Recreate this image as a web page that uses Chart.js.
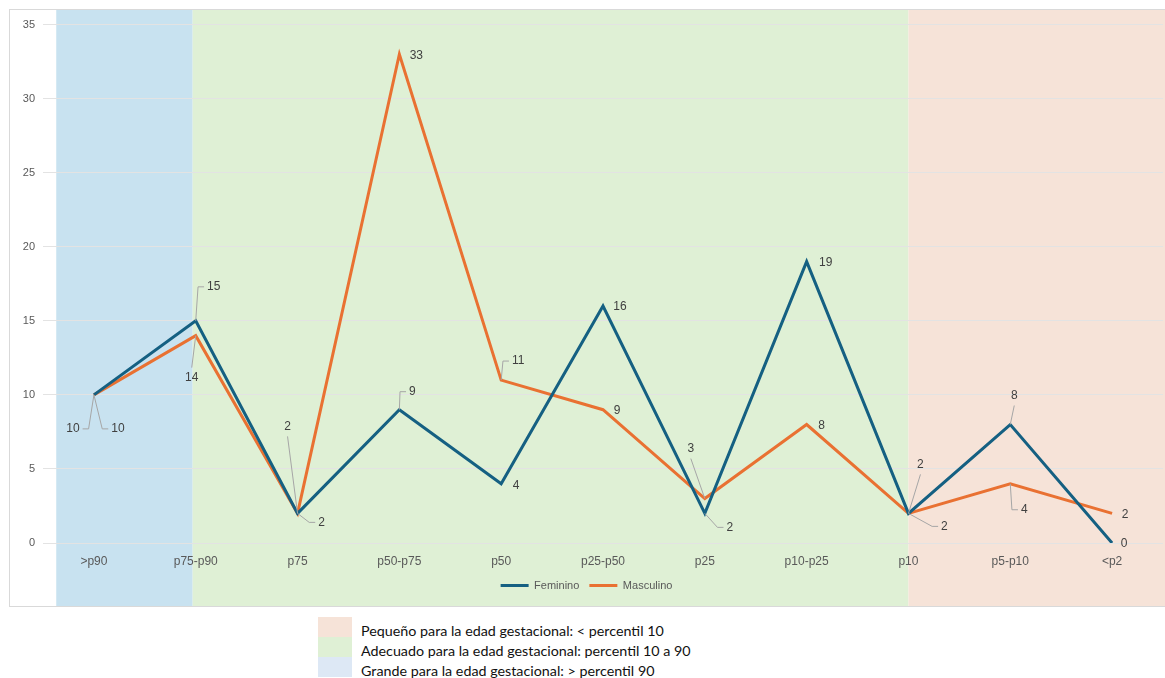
<!DOCTYPE html>
<html>
<head>
<meta charset="utf-8">
<script src="https://cdn.jsdelivr.net/npm/chart.js@4"></script>
<style>
    body { margin: 0; background: #fff; width: 1165px; height: 678px; overflow: hidden; position: relative; font-family: "Liberation Sans", Arial, sans-serif; }
    #frame { position: absolute; left: 9px; top: 9px; width: 1160px; height: 598px; border: 1px solid #d9d9d9; box-sizing: border-box; }
    #frame canvas { display: block; }
    #key { position: absolute; left: 318px; top: 617px; }
    .row { display: flex; align-items: center; height: 20px; }
    .box { width: 34px; height: 20px; margin-right: 9px; }
    .row span { font-size: 14.3px; color: #111; font-family: "Lato", sans-serif; position: relative; top: 3px; }
</style>
</head>
<body>
<div id="frame"><canvas id="chart" width="1158" height="596"></canvas></div>
<div id="key">
    <div class="row"><div class="box" style="background:#f6e3d8"></div><span>Pequeño para la edad gestacional: &lt; percentil 10</span></div>
    <div class="row"><div class="box" style="background:#dff0d5"></div><span>Adecuado para la edad gestacional: percentil 10 a 90</span></div>
    <div class="row"><div class="box" style="background:#dde8f5"></div><span>Grande para la edad gestacional: &gt; percentil 90</span></div>
</div>
<script>
// DATA
let labels = [">p90", "p75-p90", "p75", "p50-p75", "p50", "p25-p50", "p25", "p10-p25", "p10", "p5-p10", "<p2"];
let feminino = [10, 15, 2, 9, 4, 16, 2, 19, 2, 8, 0];
let masculino = [10, 14, 2, 33, 11, 9, 3, 8, 2, 4, 2];

// BACKGROUND BANDS (in category units)
let bandFrom = [-0.37, 0.97, 8];
let bandTo = [0.97, 8, 12];
let bandColors = ["#c8e2f0", "#dff0d5", "#f6e3d8"];

// LABEL PLACEMENT [dx, dy, leader]
let femLabelPos = [[-21, 34, "h"], [18, -34, "h"], [24, 9, "h"], [13, -18, "h"], [15, 2, ""], [17, 1, ""],
    [25, 14, "h"], [19, 1, ""], [12, -49, "v"], [4, -29, "v"], [12, 1, ""]];
let mascLabelPos = [[24, 34, "h"], [-4, 42, "v"], [-10, -87, "v"], [17, 1, ""], [17, -19, "h"], [14, 1, ""],
    [-14, -50, "v"], [15, 1, ""], [36, 13, "h"], [14, 26, "h"], [13, 1, ""]];

let bandPlugin = {
    id: "bands",
    beforeDraw(chart) {
        let ctx = chart.ctx;
        let x = chart.scales.x;
        ctx.save();
        for (let i = 0; i < bandFrom.length; i++) {
            let x1 = x.getPixelForValue(bandFrom[i]);
            let x2 = Math.min(x.getPixelForValue(bandTo[i]), chart.width);
            ctx.fillStyle = bandColors[i];
            ctx.fillRect(x1, 0, x2 - x1, chart.height);
        }
        ctx.restore();
    }
};

let labelPlugin = {
    id: "valueLabels",
    afterDatasetsDraw(chart) {
        let ctx = chart.ctx;
        let all = [femLabelPos, mascLabelPos];
        ctx.save();
        ctx.font = "12px 'Liberation Sans', Arial, sans-serif";
        ctx.textAlign = "center";
        ctx.textBaseline = "middle";
        chart.data.datasets.forEach((ds, d) => {
            let meta = chart.getDatasetMeta(d);
            meta.data.forEach((pt, i) => {
                let pos = all[d][i];
                let lx = pt.x + pos[0];
                let ly = pt.y + pos[1];
                let text = String(ds.data[i]);
                let w = ctx.measureText(text).width;
                if (pos[2]) {
                    ctx.strokeStyle = "#a6a6a6";
                    ctx.lineWidth = 1;
                    ctx.beginPath();
                    ctx.moveTo(pt.x, pt.y);
                    if (pos[2] == "h") {
                        let side = pos[0] < 0 ? -1 : 1;
                        ctx.lineTo(lx - side * (w / 2 + 9), ly);
                        ctx.lineTo(lx - side * (w / 2 + 3), ly);
                    } else {
                        let side = pos[1] < 0 ? -1 : 1;
                        ctx.lineTo(lx, ly - side * 10);
                    }
                    ctx.stroke();
                }
                ctx.fillStyle = "#404040";
                ctx.fillText(text, lx, ly);
            });
        });
        ctx.restore();
    }
};

let tickFont = { family: "'Liberation Sans', Arial, sans-serif", size: 11 };
let xFont = { family: "'Liberation Sans', Arial, sans-serif", size: 12 };

new Chart(document.getElementById("chart"), {
    type: "line",
    data: {
        labels,
        datasets: [{
            label: "Feminino",
            data: feminino,
            borderColor: "#156082",
            backgroundColor: "#156082",
            borderWidth: 3,
            pointRadius: 0,
            tension: 0
        }, {
            label: "Masculino",
            data: masculino,
            borderColor: "#e97132",
            backgroundColor: "#e97132",
            borderWidth: 3,
            pointRadius: 0,
            tension: 0
        }]
    },
    options: {
        responsive: false,
        animation: false,
        layout: { padding: { top: 10, right: 5, bottom: 5, left: 0 } },
        plugins: {
            legend: {
                position: "bottom",
                labels: {
                    usePointStyle: true,
                    pointStyle: "line",
                    pointStyleWidth: 28,
                    color: "#595959",
                    font: tickFont,
                    padding: 10
                }
            },
            tooltip: { enabled: false }
        },
        scales: {
            x: {
                offset: true,
                grid: { display: false },
                border: { display: false },
                ticks: { color: "#595959", font: xFont, padding: 3, maxRotation: 0 },
                afterFit(scale) { scale.height = 27; }
            },
            y: {
                min: 0,
                max: 35,
                ticks: { stepSize: 5, color: "#595959", font: tickFont, padding: 8 },
                grid: { color: "#e3e3e3", drawTicks: false },
                border: { display: false },
                afterFit(scale) { scale.width = 33; }
            }
        }
    },
    plugins: [bandPlugin, labelPlugin]
});
</script>
</body>
</html>
